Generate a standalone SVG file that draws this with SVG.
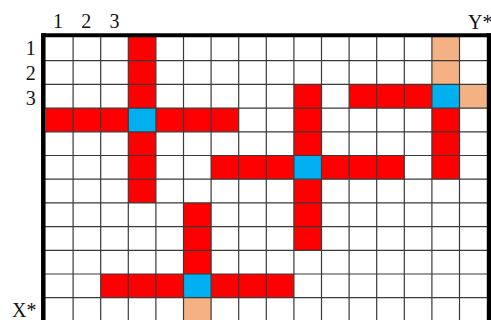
<svg xmlns="http://www.w3.org/2000/svg" width="491" height="320" viewBox="0 0 491 320">
<style>
.r{fill:#FF0000}
.b{fill:#00B0F0}
.s{fill:#F4B183}
.g{stroke:#3a3a3a;stroke-width:1.2;fill:none}
.bd{stroke:#000;fill:none}
text{font-family:"Liberation Serif","Times New Roman",serif;font-size:20px;fill:#111}
</style>
<rect width="491" height="320" fill="#fff"/>
<g id="cross1">
<rect class="r" x="128.3" y="37" width="27.6" height="71.1"/>
<rect class="r" x="128.3" y="131.8" width="27.6" height="71.1"/>
<rect class="r" x="45.5" y="108.1" width="82.8" height="23.7"/>
<rect class="r" x="155.9" y="108.1" width="82.8" height="23.7"/>
<rect class="b" x="128.3" y="108.1" width="27.6" height="23.7"/>
</g>
<g id="cross2">
<rect class="r" x="293.9" y="84.4" width="27.6" height="71.1"/>
<rect class="r" x="293.9" y="179.2" width="27.6" height="71.1"/>
<rect class="r" x="211.1" y="155.5" width="82.8" height="23.7"/>
<rect class="r" x="321.5" y="155.5" width="82.8" height="23.7"/>
<rect class="b" x="293.9" y="155.5" width="27.6" height="23.7"/>
</g>
<g id="cross3">
<rect class="s" x="431.9" y="37" width="27.6" height="47.4"/>
<rect class="r" x="431.9" y="108.1" width="27.6" height="71.1"/>
<rect class="r" x="349.1" y="84.4" width="82.8" height="23.7"/>
<rect class="s" x="459.5" y="84.4" width="27.6" height="23.7"/>
<rect class="b" x="431.9" y="84.4" width="27.6" height="23.7"/>
</g>
<g id="cross4">
<rect class="r" x="183.5" y="202.9" width="27.6" height="71.1"/>
<rect class="s" x="183.5" y="297.7" width="27.6" height="23.7"/>
<rect class="r" x="100.7" y="274" width="82.8" height="23.7"/>
<rect class="r" x="211.1" y="274" width="82.8" height="23.7"/>
<rect class="b" x="183.5" y="274" width="27.6" height="23.7"/>
</g>
<g id="grid" class="g">
<path d="M73.1 37V320M100.7 37V320M128.3 37V320M155.9 37V320M183.5 37V320M211.1 37V320M238.7 37V320M266.3 37V320M293.9 37V320M321.5 37V320M349.1 37V320M376.7 37V320M404.3 37V320M431.9 37V320M459.5 37V320"/>
<path d="M45 60.7H488M45 84.4H488M45 108.1H488M45 131.8H488M45 155.5H488M45 179.2H488M45 202.9H488M45 226.6H488M45 250.3H488M45 274H488M45 297.7H488"/>
</g>
<g id="border" class="bd">
<path d="M43.3 33.3V320" stroke-width="4.5"/>
<path d="M41 35.3H491" stroke-width="4"/>
<path d="M488.9 33.3V320" stroke-width="4.2"/>
</g>
<g id="labels">
<text x="58" y="28" text-anchor="middle">1</text>
<text x="86.3" y="28" text-anchor="middle">2</text>
<text x="114.5" y="28" text-anchor="middle">3</text>
<text x="30.7" y="54.5" text-anchor="middle">1</text>
<text x="30.7" y="79.5" text-anchor="middle">2</text>
<text x="30.7" y="104.5" text-anchor="middle">3</text>
<text x="468" y="29">Y*</text>
<text x="12" y="317">X*</text>
</g>
</svg>
